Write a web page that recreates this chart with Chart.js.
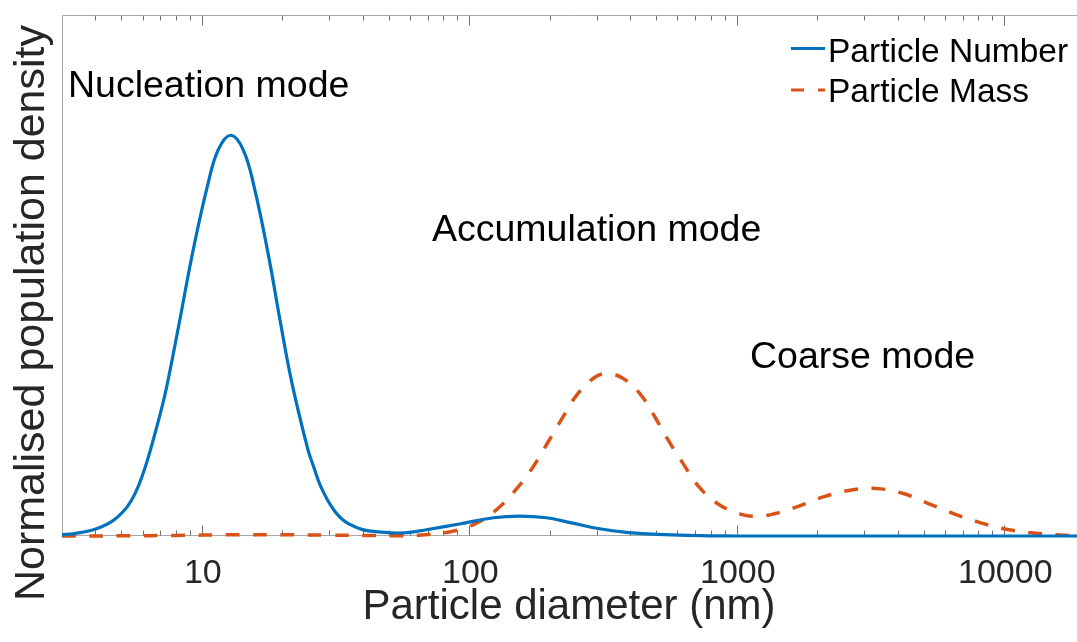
<!DOCTYPE html>
<html><head><meta charset="utf-8">
<script src="https://cdn.jsdelivr.net/npm/chart.js@4.4.1/dist/chart.umd.min.js"></script>
<style>html,body{margin:0;padding:0;background:#fff;overflow:hidden}canvas{display:block}</style>
</head><body>
<canvas id="c" width="1077" height="642" style="width:1077px;height:642px"></canvas>
<script>
// ---- data ----
const diameterNumber = [3.0, 3.3, 3.55, 3.9, 4.22, 4.55, 4.87, 5.25, 5.62, 5.97, 6.33, 7.07, 7.42, 8.27, 9.23, 10.5, 11.52, 12.84, 14.29, 15.7, 17.72, 19.58, 21.66, 24.86, 26.2, 27.63, 29.5, 31.45, 33.3, 35.3, 39.58, 43, 47.0, 53.4, 60, 69.1, 92, 123, 154.5, 194, 244, 307, 387, 487, 613, 800, 1000, 2000, 5000, 10000, 18700];
const densityNumber  = [0.003, 0.0055, 0.009, 0.015, 0.023, 0.034, 0.049, 0.072, 0.105, 0.148, 0.200, 0.318, 0.378, 0.539, 0.706, 0.874, 0.964, 1.0, 0.963, 0.87, 0.702, 0.54, 0.385, 0.218, 0.172, 0.128, 0.090, 0.061, 0.043, 0.031, 0.0165, 0.012, 0.0095, 0.0075, 0.009, 0.0155, 0.030, 0.0455, 0.0495, 0.0455, 0.032, 0.018, 0.009, 0.0045, 0.002, 0.0005, 0, 0, 0, 0, 0];
const diameterMass = [3, 5, 8, 12.8, 20, 30, 45, 55, 65, 77.5, 84, 92, 109, 130, 152, 173, 197, 224, 251.6, 290, 326, 376, 434, 494, 554, 630, 717, 851, 1040, 1200, 1380, 1674, 2106, 2650, 3313, 4195, 5202, 6454, 8117, 10155, 12860, 16190, 18700];
const densityMass  = [0, 0.0005, 0.0015, 0.003, 0.003, 0.002, 0.001, 0.0008, 0.002, 0.0065, 0.0100, 0.0160, 0.0355, 0.073, 0.122, 0.172, 0.2345, 0.297, 0.351, 0.393, 0.4055, 0.393, 0.3555, 0.297, 0.239, 0.1805, 0.125, 0.080, 0.054, 0.049, 0.0555, 0.0725, 0.0975, 0.114, 0.1185, 0.106, 0.081, 0.056, 0.0335, 0.0168, 0.0075, 0.0025, 0.001];
const majorTicks = [10, 100, 1000, 10000];
const tickLabels = ['10', '100', '1000', '10000'];
const seriesNames = ['Particle Number', 'Particle Mass'];
const modeLabels = ['Nucleation mode', 'Accumulation mode', 'Coarse mode'];
const xTitle = 'Particle diameter (nm)';
const yTitle = 'Normalised population density';
const xRange = [3, 18700];
const yRange = [0, 1.3];

const BLUE = '#0072BD', ORANGE = '#D95319';
const FONT = '"Liberation Sans", Arial, Helvetica, sans-serif';

const toPts = (xs, ys) => xs.map((v, i) => ({x: v, y: ys[i]}));

const frame = {
  id: 'frame',
  beforeDatasetsDraw(chart) {
    const {ctx, chartArea: a, scales: {x}} = chart;
    ctx.save();
    ctx.lineWidth = 1;
    ctx.strokeStyle = '#a8a8a8';
    ctx.beginPath();
    ctx.moveTo(a.right + 2, a.top + 0.5); ctx.lineTo(a.left + 0.5, a.top + 0.5);
    ctx.lineTo(a.left + 0.5, a.bottom - 0.5); ctx.lineTo(a.right + 2, a.bottom - 0.5);
    ctx.stroke();
    ctx.strokeStyle = '#707070';
    ctx.beginPath();
    for (let e = 0; e <= 4; e++) {
      for (let m = 1; m <= 9; m++) {
        const v = m * Math.pow(10, e);
        if (v <= xRange[0] || v >= xRange[1]) continue;
        const px = Math.round(x.getPixelForValue(v)) + 0.5;
        const len = majorTicks.includes(v) ? 10 : 5;
        ctx.moveTo(px, a.bottom - 0.5); ctx.lineTo(px, a.bottom - 0.5 - len);
        ctx.moveTo(px, a.top + 0.5); ctx.lineTo(px, a.top + 0.5 + len);
      }
    }
    ctx.stroke();
    ctx.restore();
  },
  afterDraw(chart) {
    const {ctx, scales: {x}} = chart;
    ctx.save();
    ctx.textBaseline = 'alphabetic';
    // tick labels
    ctx.fillStyle = '#262626';
    ctx.font = '34px ' + FONT;
    ctx.textAlign = 'center';
    majorTicks.forEach((v, i) => ctx.fillText(tickLabels[i], x.getPixelForValue(v) + 1, 583));
    // axis titles
    ctx.font = '42px ' + FONT;
    ctx.fillText(xTitle, 569, 619);
    ctx.save();
    ctx.translate(44, 313);
    ctx.rotate(-Math.PI / 2);
    ctx.font = '43px ' + FONT;
    ctx.fillText(yTitle, 0, 0);
    ctx.restore();
    // mode annotations
    ctx.fillStyle = '#000';
    ctx.textAlign = 'left';
    ctx.font = '37.5px ' + FONT;
    ctx.fillText(modeLabels[0], 68, 97);
    ctx.fillText(modeLabels[1], 432, 241);
    ctx.fillText(modeLabels[2], 750, 368);
    // legend
    ctx.font = '33.5px ' + FONT;
    ctx.fillText(seriesNames[0], 828, 62);
    ctx.fillText(seriesNames[1], 828, 102);
    ctx.lineWidth = 3.2;
    ctx.strokeStyle = BLUE;
    ctx.beginPath(); ctx.moveTo(791, 48.5); ctx.lineTo(825, 48.5); ctx.stroke();
    ctx.strokeStyle = ORANGE;
    ctx.setLineDash([13, 14]);
    ctx.beginPath(); ctx.moveTo(791, 90); ctx.lineTo(825, 90); ctx.stroke();
    ctx.restore();
  }
};

new Chart(document.getElementById('c'), {
  type: 'line',
  data: {
    datasets: [
      {label: seriesNames[0], data: toPts(diameterNumber, densityNumber), borderColor: BLUE, borderWidth: 3.2,
       pointRadius: 0, fill: false, tension: 0.4, clip: 4},
      {label: seriesNames[1], data: toPts(diameterMass, densityMass), borderColor: ORANGE, borderWidth: 3.5,
       borderDash: [13.7, 13.6], pointRadius: 0, fill: false, tension: 0.4, clip: 4}
    ]
  },
  options: {
    responsive: false,
    animation: false,
    devicePixelRatio: 1,
    layout: {padding: {left: 62, top: 15, right: 0, bottom: 106}},
    scales: {
      x: {type: 'logarithmic', min: xRange[0], max: xRange[1], display: false},
      y: {type: 'linear', min: yRange[0], max: yRange[1], display: false}
    },
    plugins: {legend: {display: false}, tooltip: {enabled: false}}
  },
  plugins: [frame]
});
</script>
</body></html>
